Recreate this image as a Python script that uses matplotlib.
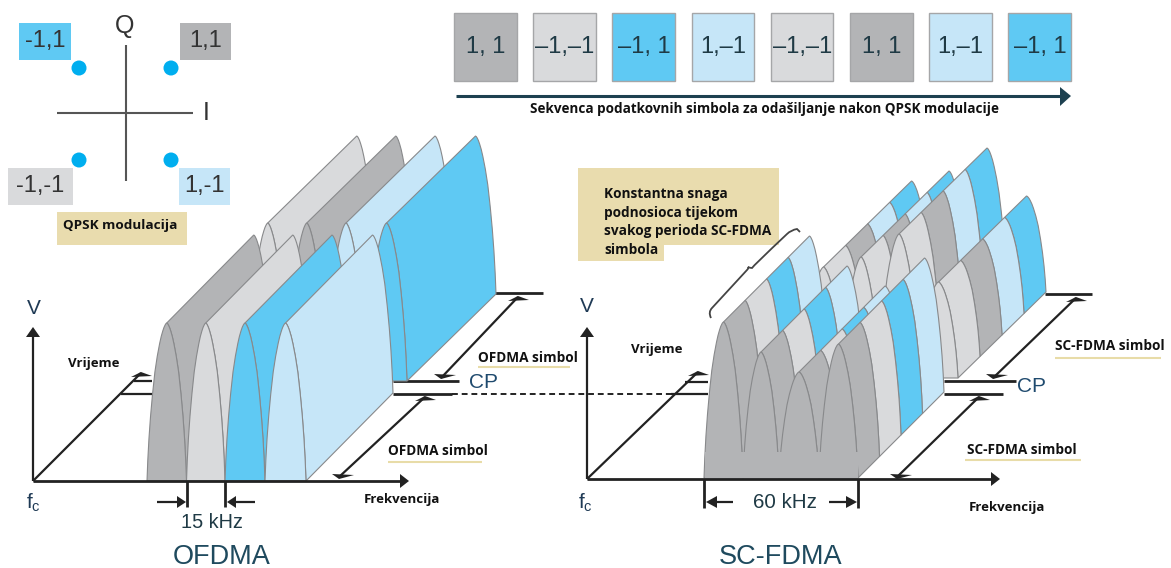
import numpy as np
import matplotlib
matplotlib.use("Agg")
import matplotlib.pyplot as plt
from matplotlib.patches import Polygon, Rectangle, Circle, PathPatch
from matplotlib.path import Path

# Data
sequence = ["1, 1", "–1,–1", "–1, 1", "1,–1", "–1,–1", "1, 1", "1,–1", "–1, 1"]
sequence_keys = ["gray", "light", "blue", "pale", "light", "gray", "pale", "blue"]
qpsk_labels = ["-1,1", "1,1", "-1,-1", "1,-1"]
qpsk_keys = ["blue", "gray", "light", "pale"]
front_keys = ["gray", "light", "blue", "pale"]
back_keys = ["light", "gray", "pale", "blue"]

# Subcarrier heights in pixels
ofdma_heights = [158, 158, 158, 158]
scfdma_front_heights = [156, 126, 106, 134]
scfdma_back_heights = [111, 121, 144, 96]

# Half of a subcarrier lobe, base to peak (fraction of half width, fraction of height)
lobe_u = [0, .04, .10, .18, .28, .40, .52, .64, .72, .80, .86, .92, .96, 1]
lobe_v = [0, .13, .27, .41, .55, .69, .79, .87, .915, .95, .972, .988, .996, 1]

# Layout in image pixels
ofdma_edges = [147, 186.5, 225, 265, 306]
scfdma_edges = [704, 743, 779, 819, 858]

colors = {"gray": "#b3b4b6", "light": "#d9dadc", "blue": "#5fc9f3", "pale": "#c6e6f8"}
edge = "#88898b"
ink = "#222222"
navy = "#1d4150"
sand = "#e9dcae"
sand_line = "#e8dca8"
bold = dict(family="Open Sans", fontweight="bold", color="#111111", va="center")
sans = dict(family="Liberation Sans", va="center", ha="center")

fig = plt.figure(figsize=(11.71, 5.68), dpi=100)
ax = fig.add_axes([0, 0, 1, 1])
ax.set_xlim(0, 1171)
ax.set_ylim(568, 0)
ax.axis("off")


def draw_lobe(x0, x1, base, height, keys, dx, dy, z):
    half = (x1 - x0) / 2
    u = np.array(lobe_u)
    v = np.array(lobe_v)
    left = np.column_stack([x0 + u * half, base - v * height])
    right = np.column_stack([x1 - u[::-1] * half, base - v[::-1] * height])
    n = len(keys)
    # back cell first, the front face goes on top
    for k in range(n - 1, -1, -1):
        a = np.array([dx * k / n, -dy * k / n])
        b = np.array([dx * (k + 1) / n, -dy * (k + 1) / n])
        pts = np.vstack([right + a, (right + b)[::-1]])
        ax.add_patch(Polygon(pts, closed=True, fc=colors[keys[k]], ec=edge, lw=0.8, zorder=z))
    face = np.vstack([left, right])
    ax.add_patch(Polygon(face, closed=True, fc=colors[keys[0]], ec=edge, lw=0.8, zorder=z))


def line(xs, ys, lw=1.6, color=ink, z=2, **kw):
    ax.plot(xs, ys, color=color, lw=lw, zorder=z, solid_capstyle="butt", **kw)


def head(pts, z=6, color=ink):
    ax.add_patch(Polygon(pts, closed=True, fc=color, ec="none", zorder=z))


def flat_up(x, y):
    head([(x, y), (x - 10, y + 5), (x + 11, y + 4)])


def flat_down(x, y):
    head([(x, y), (x - 7, y - 5), (x + 15, y - 4)])


def draw_axes(x0, y0, vtop, xend, tx, ty):
    line([x0, x0], [y0, vtop + 8])
    head([(x0, vtop), (x0 - 7, vtop + 10), (x0 + 7, vtop + 10)])
    line([x0, xend - 8], [y0, y0], lw=2, z=5)
    head([(xend, y0), (xend - 9, y0 - 7), (xend - 9, y0 + 7)], z=6)
    line([x0, tx], [y0, ty])
    flat_up(tx, ty - 1)


# QPSK constellation
line([125.5, 125.5], [45, 181], lw=1.5, color="#555555")
line([57, 193], [113, 113], lw=1.5, color="#555555")
ax.text(125, 26, "Q", fontsize=18, color="#333333", **sans)
ax.text(206, 113, "I", fontsize=18, color="#333333", **sans)
for px, py in zip([79, 171, 79, 171], [68, 68, 160, 160]):
    ax.add_patch(Circle((px, py), 7.5, fc="#00aeef", ec="none"))
box_x = [19, 180, 8, 179]
box_w = [52, 51, 65, 51]
box_y = [23, 23, 168, 168]
for i in range(4):
    ax.add_patch(Rectangle((box_x[i], box_y[i]), box_w[i], 37, fc=colors[qpsk_keys[i]], ec="none"))
    ax.text(box_x[i] + box_w[i] / 2, box_y[i] + 18, qpsk_labels[i], fontsize=17, color="#333333", **sans)
ax.add_patch(Rectangle((57, 212), 130, 33, fc=sand, ec="none"))
ax.text(63, 226, "QPSK modulacija", fontsize=9.7, **bold)

# Sequence of symbols
for i in range(8):
    ax.add_patch(Rectangle((454 + i * 79.2, 12.5), 62.5, 68, fc=colors[sequence_keys[i]], ec="#a5a6a8", lw=1))
    ax.text(485.5 + i * 79.2, 47, sequence[i], fontsize=17, color="#1f3a45", **sans)
line([456, 1062], [96, 96], lw=2.2, color=navy)
head([(1071, 96), (1060, 87), (1060, 106)], color=navy)
ax.text(764, 109, "Sekvenca podatkovnih simbola za odašiljanje nakon QPSK modulacije",
        fontsize=9.75, ha="center", **bold)

# OFDMA
draw_axes(33, 481, 327, 409, 141, 373)
line([134, 152], [381, 381])
line([121, 152], [394, 394])
for i in range(4):
    draw_lobe(ofdma_edges[i] + 101, ofdma_edges[i + 1] + 101, 381, ofdma_heights[i], back_keys[i:i + 1], 89, 87, 3)
for i in range(4):
    draw_lobe(ofdma_edges[i], ofdma_edges[i + 1], 481, ofdma_heights[i], front_keys[i:i + 1], 87, 88, 3)
line([393, 459], [381, 381], lw=2)
line([393, 452], [394, 394], lw=2)
line([452, 671], [394, 394], lw=1.4, linestyle=(0, (3, 2)))
line([494, 543], [293, 293], lw=2)
line([441, 518], [378, 297])
flat_down(441, 379)
flat_up(518, 296)
line([339, 425], [477, 397])
flat_down(339, 479)
flat_up(425, 396)
line([186.5, 186.5], [481, 507], lw=2)
line([225, 225], [481, 507], lw=2)
line([157, 178], [502, 502])
head([(186, 502), (177, 496), (177, 508)])
line([233, 255], [502, 502])
head([(227, 502), (236, 496), (236, 508)])
ax.text(212, 522, "15 kHz", fontsize=14.3, color="#1f3a45", **sans)
ax.text(222, 557, "OFDMA", fontsize=19.5, color="#1f4a5e", **sans)
ax.text(34, 308, "V", fontsize=15, color="#1f3a55", **sans)
ax.text(33, 503, r"$\mathregular{f_c}$", fontsize=15, color="#1f3a55", **sans)
ax.text(484, 383, "CP", fontsize=15, color="#1f4a6e", **sans)
ax.text(68, 363, "Vrijeme", fontsize=9.5, **bold)
ax.text(364, 499, "Frekvencija", fontsize=9.5, **bold)
ax.text(478, 358, "OFDMA simbol", fontsize=9.8, **bold)
ax.text(388, 451, "OFDMA simbol", fontsize=9.8, **bold)
line([478, 570], [367, 367], lw=1.5, color=sand_line)
line([388, 482], [462, 462], lw=1.5, color=sand_line)

# SC-FDMA
draw_axes(587, 479, 327, 1000, 698, 372)
line([685, 708], [382, 382])
line([671, 708], [394, 394])
for i in range(4):
    draw_lobe(scfdma_edges[i] + 100, scfdma_edges[i + 1] + 100, 378, scfdma_back_heights[i], back_keys, 88, 86, 3)
for i in range(4):
    draw_lobe(scfdma_edges[i], scfdma_edges[i + 1], 478, scfdma_front_heights[i], front_keys, 86, 86, 3)
# lobes of the front face merge below the valleys
ax.add_patch(Rectangle((705, 452), 152.5, 26, fc=colors["gray"], ec="none", zorder=3))
line([944, 1016], [381, 381], lw=2)
line([944, 1003], [394, 394], lw=2)
line([1045, 1092], [294, 294], lw=2)
line([993, 1076], [378, 298])
flat_down(993, 379)
flat_up(1076, 297)
line([897, 979], [477, 397])
flat_down(897, 479)
flat_up(979, 396)
line([704, 704], [479, 508], lw=2)
line([858, 858], [479, 508], lw=2)
line([716, 733], [502, 502])
head([(706, 502), (717, 496), (717, 508)])
line([829, 847], [502, 502])
head([(857, 502), (846, 496), (846, 508)])
ax.text(785, 503, "60 kHz", fontsize=14.8, color="#1f3a45", **sans)
ax.text(781, 557, "SC-FDMA", fontsize=19.5, color="#1f4a5e", **sans)
ax.text(587, 306, "V", fontsize=15, color="#1f3a55", **sans)
ax.text(585, 503, r"$\mathregular{f_c}$", fontsize=15, color="#1f3a55", **sans)
ax.text(1031, 387, "CP", fontsize=15, color="#1f4a6e", **sans)
ax.text(631, 349, "Vrijeme", fontsize=9.5, **bold)
ax.text(969, 507, "Frekvencija", fontsize=9.5, **bold)
ax.text(1055, 346, "SC-FDMA simbol", fontsize=9.8, **bold)
ax.text(967, 450, "SC-FDMA simbol", fontsize=9.8, **bold)
line([1055, 1161], [358, 358], lw=1.5, color=sand_line)
line([965, 1081], [460, 460], lw=1.5, color=sand_line)

# Note box and brace
ax.add_patch(Rectangle((578, 168), 201, 77, fc=sand, ec="none"))
ax.add_patch(Rectangle((578, 245), 86, 16, fc=sand, ec="none"))
note = ["Konstantna snaga", "podnosioca tijekom", "svakog perioda SC-FDMA", "simbola"]
for i in range(4):
    ax.text(604, 194 + i * 18.7, note[i], fontsize=9.8, **bold)
brace = Path([(711, 318), (708, 312), (712, 308), (747, 270), (749, 268), (748, 267), (750, 268),
              (752, 268), (753, 266), (787, 234), (791, 230), (797, 229), (800, 232)],
             [Path.MOVETO, Path.CURVE3, Path.CURVE3, Path.LINETO, Path.CURVE3, Path.CURVE3,
              Path.CURVE3, Path.CURVE3, Path.CURVE3, Path.LINETO, Path.CURVE3, Path.CURVE3, Path.LINETO])
ax.add_patch(PathPatch(brace, fc="none", ec="#444444", lw=1.3, zorder=7))

plt.savefig("out.png", dpi=100)
plt.close()
